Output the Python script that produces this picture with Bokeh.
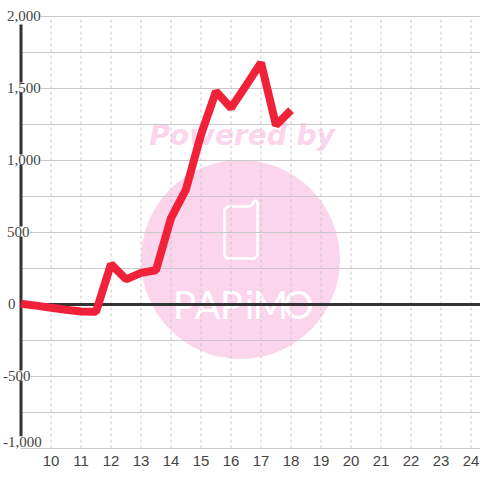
from bokeh.plotting import figure
from bokeh.embed import file_html
from bokeh.resources import INLINE
from bokeh.models import ColumnDataSource, LabelSet, Range1d
from bokeh.core.properties import value

hours = [9, 9.5, 10, 10.5, 11, 11.5, 12, 12.5, 13, 13.5, 14, 14.5, 15, 15.5, 16, 16.5, 17, 17.5, 18]
values = [5, -8, -22, -36, -48, -50, 280, 175, 220, 238, 600, 800, 1180, 1480, 1365, 1520, 1680, 1245, 1350]
x_ticks = list(range(10, 25))
y_major = [-1000, -500, 0, 500, 1000, 1500, 2000]
y_minor = [-750, -250, 250, 750, 1250, 1750]
y_labels = ["-1,000", "-500", "0", "500", "1,000", "1,500", "2,000"]
y_label_shift = [7, 1, 1, 1, 1, 1, 1]
y_label_pad = [-18, -18, -13, -14, -14, -14, -14]

XS, YS = 30, 0.144
x0 = 9 - 20.5 / XS
y1 = 2000 + 16 / YS
p = figure(width=480, height=480, output_backend="svg", toolbar_location=None,
           x_range=Range1d(x0, x0 + 480 / XS),
           y_range=Range1d(y1 - 480 / YS, y1),
           min_border=0, outline_line_color=None)
p.xaxis.visible = False
p.yaxis.visible = False
p.xgrid.visible = False
p.ygrid.visible = False

def fx(px):
    return x0 + px / XS

def fy(py):
    return y1 - py / YS

PINK = "#fbd5ec"
p.scatter([fx(240)], [fy(259)], size=199, marker="circle", fill_color=PINK, line_color=None)
p.text([fx(241.5)], [fy(135)], text=["Powered by"], text_font=value("DejaVu Sans"), text_font_style="bold italic",
       text_font_size="28px", text_color=PINK, text_align="center", text_baseline="middle")

# phone icon
icon_x = [227, 249, 252, 253, 255, 257, 257, 254, 227, 224, 224, 227]
icon_y = [206, 206, 204, 201, 200, 202, 255, 258, 258, 255, 209, 206]
p.line([fx(v) for v in icon_x], [fy(v) for v in icon_y], line_color="white", line_width=2.5, line_join="round")

# logotype
logo_letters = ["P", "A", "P", "i", "M", "O"]
logo_px = [184, 207, 231, 249, 270, 298]
for lx, ch in zip(logo_px, logo_letters):
    p.text([fx(lx)], [fy(303)], text=[ch], text_font=value("Lato"), text_font_size="38px",
           text_color="white", text_align="center", text_baseline="alphabetic")

# grid
all_y = y_major + y_minor
p.segment(x0=[9] * 13, x1=[x0 + 16] * 13, y0=all_y, y1=all_y, line_color="#c8c8c8", line_width=1.2)
p.segment(x0=x_ticks, x1=x_ticks, y0=[-1000] * 15, y1=[2000] * 15, line_color="#c8c8c8", line_width=1, line_dash="3 3")

# axes
p.segment(x0=[9], x1=[9], y0=[fy(436)], y1=[fy(24)], line_color="#333333", line_width=3)
p.segment(x0=[9], x1=[x0 + 16], y0=[0], y1=[0], line_color="#333333", line_width=3)

# series
p.line(hours, values, line_color="#f02138", line_width=8, line_join="bevel")

# tick labels
src = ColumnDataSource(dict(x=[9] * 7, y=y_major, t=y_labels, dy=y_label_shift, dx=y_label_pad))
p.add_layout(LabelSet(x="x", y="y", text="t", source=src, x_offset="dx", y_offset="dy",
                      text_font="Liberation Sans", text_font_size="15px", text_color="#444444",
                      text_baseline="middle", text_align="left", background_fill_color="white"))
xsrc = ColumnDataSource(dict(x=x_ticks, y=[-1000] * 15, t=[str(v) for v in x_ticks]))
p.text("x", "y", text="t", source=xsrc, y_offset=12, text_font=value("Liberation Sans"), text_font_size="15px",
       text_color="#444444", text_align="center", text_baseline="middle")

open("out.html", "w").write(file_html(p, INLINE))
